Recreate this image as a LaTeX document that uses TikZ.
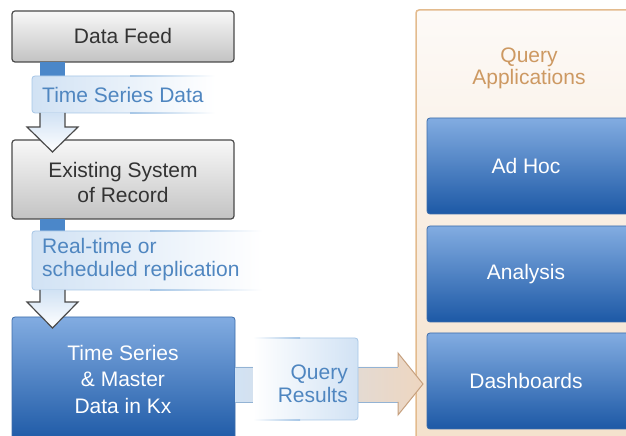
\documentclass[tikz,border=0pt]{standalone}
\usepackage{fontspec}
\setmainfont{Liberation Sans}
\definecolor{grayborder}{HTML}{4A4A4A}
\definecolor{graytop}{HTML}{F8F8F8}
\definecolor{graybot}{HTML}{C3C3C3}
\definecolor{txtdark}{HTML}{333333}
\definecolor{barblue}{HTML}{4B87C9}
\definecolor{lblfill}{HTML}{D1E2F4}
\definecolor{lblborder}{HTML}{A6C6E6}
\definecolor{lbltext}{HTML}{4F86C0}
\definecolor{bluetop}{HTML}{82ACE1}
\definecolor{bluebot}{HTML}{1D59A6}
\definecolor{blueborder}{HTML}{3D6DAA}
\definecolor{panelborder}{HTML}{E3BB8E}
\definecolor{paneltop}{HTML}{FDFAF7}
\definecolor{panelbot}{HTML}{F4E1CC}
\definecolor{titletan}{HTML}{CD9962}
\definecolor{arrowpeach}{HTML}{EED6C0}
\definecolor{arrowtan}{HTML}{C6A07E}
\definecolor{shaftline}{HTML}{93B3D4}
\tikzset{
  graybox/.style={draw=grayborder, line width=1.2pt, rounded corners=3pt, top color=graytop, bottom color=graybot, inner sep=0pt},
  bluebox/.style={draw=blueborder, line width=0.8pt, rounded corners=3pt, top color=bluetop, bottom color=bluebot, inner sep=0pt},
  darktext/.style={text=txtdark, font=\fontsize{21}{24.5}\selectfont, align=center},
  whitetext/.style={text=white, font=\fontsize{21}{24.5}\selectfont, align=center},
  lbltxt/.style={text=lbltext, font=\fontsize{21}{23}\selectfont, inner sep=0pt},
  titletxt/.style={text=titletan, font=\fontsize{21}{22}\selectfont, align=center},
  hollowarrow/.style={draw=grayborder, line width=1.2pt, top color=lblfill, bottom color=white, line join=miter},
}
\begin{document}
\begin{tikzpicture}[x=1pt,y=1pt]
\useasboundingbox (0,0) rectangle (626,436);
\clip (0,0) rectangle (626,436);
% right panel
\node[draw=panelborder, line width=1.5pt, rounded corners=3pt, top color=paneltop, bottom color=panelbot,
      minimum width=234pt, minimum height=435pt, inner sep=0pt] (panel) at (533,208.5) {};
\node[titletxt] (title) at (529,368) {Query\\Applications};
\node[bluebox, minimum width=223pt, minimum height=96pt] (adhoc) at (538.5,270) {};
\node[bluebox, minimum width=223pt, minimum height=96pt] (analysis) at (538.5,162) {};
\node[bluebox, minimum width=223pt, minimum height=96pt] (dash) at (538.5,55) {};
\node[whitetext] (adhoct) at (526,270) {Ad Hoc};
\node[whitetext] (analysist) at (526,162) {Analysis};
\node[whitetext] (dasht) at (526,55) {Dashboards};
% data feed
\node[graybox, darktext, minimum width=222pt, minimum height=51pt] (feed) at (123,399.5) {Data Feed};
\fill[barblue] (40,374) rectangle (65,359.5);
% label 1
\shade[left color=lblfill, right color=white, rounded corners=3pt] (32,323) rectangle (215,360);
\draw[lblborder, line width=0.8pt, rounded corners=3pt] (130,360) -- (32,360) -- (32,323) -- (130,323);
\shade[left color=lblborder, right color=white] (130,359.6) rectangle (215,360.4);
\shade[left color=lblborder, right color=white] (130,322.6) rectangle (215,323.4);
\node[lbltxt, anchor=west] (lbl1) at (42,341) {Time Series Data};
% existing system
\node[graybox, minimum width=222pt, minimum height=79pt] (exist) at (123,256.5) {};
\node[darktext] (existt) at (123,253.5) {Existing System\\of Record};
\shadedraw[hollowarrow] (40,323) -- (40,309) -- (27,309) -- (52.5,284) -- (78,309) -- (65,309) -- (65,323);
\fill[barblue] (40,217) rectangle (65,204.5);
% label 2
\shade[left color=lblfill, right color=white, rounded corners=3pt] (32,146) rectangle (262,205);
\draw[lblborder, line width=0.8pt, rounded corners=3pt] (150,205) -- (32,205) -- (32,146) -- (150,146);
\shade[left color=lblborder, right color=white] (150,204.6) rectangle (262,205.4);
\shade[left color=lblborder, right color=white] (150,145.6) rectangle (262,146.4);
\node[lbltxt, anchor=west, align=left] (lbl2) at (42,176.5) {Real-time or\\scheduled replication};
% Kx box
\node[bluebox, minimum width=223pt, minimum height=125pt] (kx) at (123.5,56.5) {};
\node[text=white, font=\fontsize{21}{26.5}\selectfont, align=center] (kxt) at (123,57) {Time Series\\\& Master\\Data in Kx};
\shadedraw[hollowarrow] (40,146) -- (40,134) -- (27,134) -- (52.5,108) -- (78,134) -- (65,134) -- (65,146);
% horizontal arrow
\shade[left color=lblfill, right color=arrowpeach] (235,69) -- (398,69) -- (398,83) -- (423,52) -- (398,21) -- (398,34) -- (235,34) -- cycle;
\draw[shaftline, line width=0.9pt] (235,69) -- (398,69);
\draw[shaftline, line width=0.9pt] (235,34) -- (398,34);
\draw[arrowtan, line width=1pt, line join=miter] (398,69) -- (398,83) -- (423,52) -- (398,21) -- (398,34);
% query results label
\shade[left color=white, right color=lblfill, rounded corners=3pt] (253,16) rectangle (358,98);
\draw[lblborder, line width=0.8pt, rounded corners=3pt] (300,98) -- (358,98) -- (358,16) -- (300,16);
\shade[left color=white, right color=lblborder] (253,97.6) rectangle (300,98.4);
\shade[left color=white, right color=lblborder] (253,15.6) rectangle (300,16.4);
\node[lbltxt, anchor=east, align=right] (qres) at (348,52) {Query\\Results};
\end{tikzpicture}
\end{document}
